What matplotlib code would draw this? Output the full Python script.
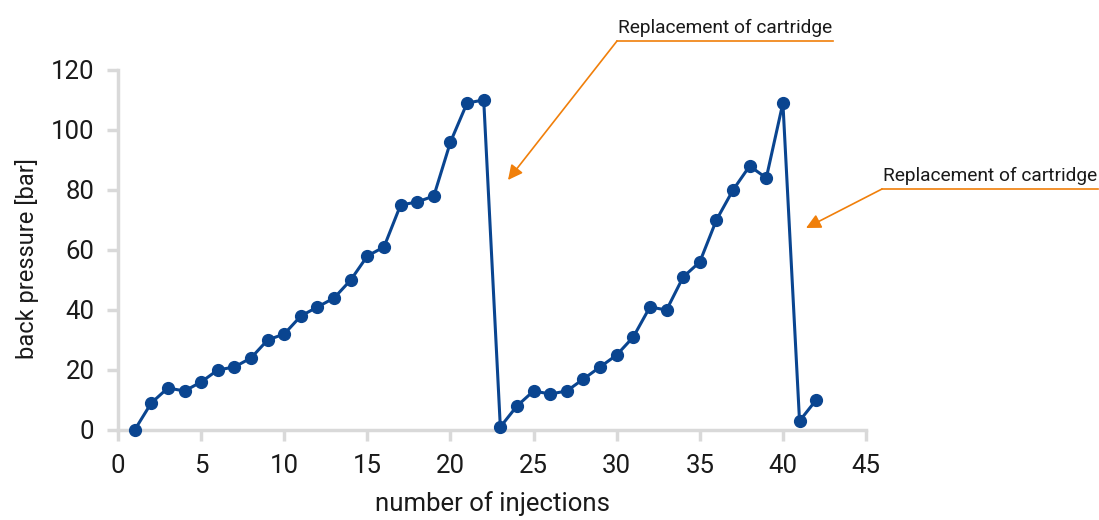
import matplotlib
matplotlib.use("Agg")
import matplotlib.pyplot as plt

injections = list(range(1, 43))
pressure = [0, 9, 14, 13, 16, 20, 21, 24, 30, 32, 38, 41, 44, 50, 58, 61, 75, 76, 78, 96,
            109, 110, 1, 8, 13, 12, 13, 17, 21, 25, 31, 41, 40, 51, 56, 70, 80, 88, 84, 109,
            3, 10]
x_ticks = [0, 5, 10, 15, 20, 25, 30, 35, 40, 45]
y_ticks = [0, 20, 40, 60, 80, 100, 120]
annot_text = "Replacement of cartridge"

plt.rcParams['font.family'] = ['Roboto', 'Liberation Sans', 'DejaVu Sans']
plt.rcParams['font.weight'] = 'normal'

fig = plt.figure(figsize=(10.99, 5.2), dpi=100)
ax = fig.add_axes([0.1074, 0.1731, 0.6806, 0.6923])

blue = '#0a4590'
orange = '#f07f0a'
grey = '#d9d9d9'
txt = '#1a1a1a'

ax.plot(injections, pressure, color=blue, lw=2.2, marker='o', ms=8.5, zorder=3, clip_on=False)

ax.set_xlim(0, 45)
ax.set_ylim(0, 120)
ax.set_xticks(x_ticks)
ax.set_yticks(y_ticks)
for s in ['top', 'right']:
    ax.spines[s].set_visible(False)
for s in ['left', 'bottom']:
    ax.spines[s].set_color(grey)
    ax.spines[s].set_linewidth(2.5)
ax.tick_params(axis='both', color=grey, width=2.5, length=8, labelsize=18.5, pad=9)
for lab in ax.get_xticklabels() + ax.get_yticklabels():
    lab.set_color(txt)
ax.set_xlabel('number of injections', fontsize=18.5, color=txt, labelpad=10)
ax.set_ylabel('back pressure [bar]', fontsize=17, color=txt)
ax.yaxis.set_label_coords(-0.105, 0.475)

W, H = 1099, 520
def fp(x, y):
    return (x / W, 1 - y / H)

for (tx0, tx1, ty, tip) in [(617, 833, 41, (508, 180)), (882, 1098, 189, (806, 228))]:
    fig.add_artist(plt.Line2D([tx0 / W, tx1 / W], [1 - ty / H, 1 - ty / H],
                              color=orange, lw=1.2, transform=fig.transFigure))
    ax.annotate('', xy=fp(*tip), xycoords='figure fraction',
                xytext=fp(tx0, ty), textcoords='figure fraction',
                arrowprops=dict(arrowstyle='-|>', color=orange, lw=1.2,
                                mutation_scale=22, shrinkA=0, shrinkB=0))
    fig.text((tx0 + 1) / W, 1 - (ty - 4) / H, annot_text, ha='left', va='bottom',
             fontsize=13.8, color=txt)

fig.savefig('out.png', dpi=100)
